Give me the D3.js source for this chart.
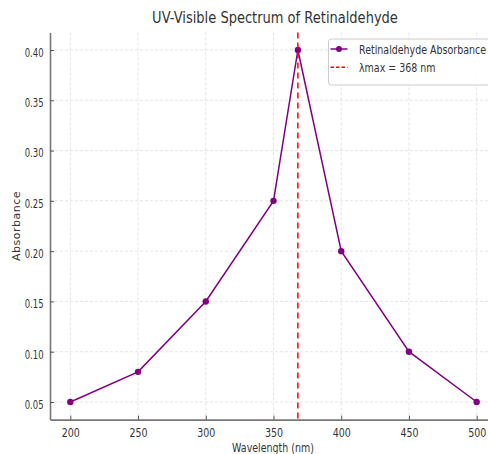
<!DOCTYPE html>
<html><head><meta charset="utf-8">
<script src="https://cdn.jsdelivr.net/npm/d3@7"></script>
<style>
body{margin:0;background:#fff;}
text{font-family:"DejaVu Sans",sans-serif;fill:#333;}
</style></head>
<body><svg id="c" width="488" height="454"></svg>
<script>
const wavelengths = [200, 250, 300, 350, 368, 400, 450, 500];
const absorbance = [0.05, 0.08, 0.15, 0.25, 0.40, 0.20, 0.10, 0.05];
const lambdaMax = 368;
const xTicks = [200, 250, 300, 350, 400, 450, 500];
const yTicks = [0.05, 0.10, 0.15, 0.20, 0.25, 0.30, 0.35, 0.40];
const seriesName = "Retinaldehyde Absorbance";
const lineName = "λmax = 368 nm";

function squeeze(sel, k) {
  sel.each(function () {
    const w = this.getComputedTextLength();
    d3.select(this).attr("textLength", w * k).attr("lengthAdjust", "spacingAndGlyphs");
  });
}

const svg = d3.select("#c");
const L = 50, R = 497, T = 32.4, B = 419.6;
const x = d3.scaleLinear().domain([185, 515]).range([L, R]);
const y = d3.scaleLinear().domain([0.0325, 0.4175]).range([B, T]);

// grid
const g = svg.append("g");
g.selectAll(".gx").data(xTicks).join("line")
  .attr("x1", d => x(d)).attr("x2", d => x(d)).attr("y1", T).attr("y2", B)
  .attr("stroke", "#ddd").attr("stroke-width", 0.8).attr("stroke-dasharray", "3,2");
g.selectAll(".gy").data(yTicks).join("line")
  .attr("y1", d => y(d)).attr("y2", d => y(d)).attr("x1", L).attr("x2", R)
  .attr("stroke", "#ddd").attr("stroke-width", 0.8).attr("stroke-dasharray", "3,2");

// axes (ticks point inward)
const xa = svg.append("g").attr("transform", `translate(0,${B})`)
  .call(d3.axisBottom(x).tickValues(xTicks).tickSizeInner(-4).tickSizeOuter(0).tickPadding(8).tickFormat(d3.format("d")));
const ya = svg.append("g").attr("transform", `translate(${L},0)`)
  .call(d3.axisLeft(y).tickValues(yTicks).tickSizeInner(-4).tickSizeOuter(0).tickPadding(6.5).tickFormat(d3.format(".2f")));
[xa, ya].forEach(a => {
  a.select(".domain").attr("stroke", "#777").attr("stroke-width", 1.6);
  a.selectAll(".tick line").attr("stroke", "#555").attr("stroke-width", 1);
  a.selectAll("text").attr("font-size", 12.8).attr("fill", "#333")
    .style("font-family", '"DejaVu Sans",sans-serif');
});
ya.selectAll("text").attr("dy", "0.5em");
squeeze(xa.selectAll("text"), 0.74);
squeeze(ya.selectAll("text"), 0.66);

// data line
const line = d3.line().x((d, i) => x(wavelengths[i])).y(d => y(d));
svg.append("path").datum(absorbance).attr("d", line)
  .attr("fill", "none").attr("stroke", "#800080").attr("stroke-width", 1.5);
svg.selectAll(".pt").data(absorbance).join("circle")
  .attr("cx", (d, i) => x(wavelengths[i])).attr("cy", d => y(d)).attr("r", 3.2)
  .attr("fill", "#800080");

// lambda max line
svg.append("line").attr("x1", x(lambdaMax)).attr("x2", x(lambdaMax)).attr("y1", T).attr("y2", B)
  .attr("stroke", "#ff0000").attr("stroke-width", 1.5).attr("stroke-dasharray", "6,4");

// title and labels
const title = svg.append("text").attr("x", 275).attr("y", 22.5).attr("text-anchor", "middle")
  .attr("font-size", 15.5).text("UV-Visible Spectrum of Retinaldehyde");
squeeze(title, 0.84);
const xl = svg.append("text").attr("x", 273).attr("y", 452).attr("text-anchor", "middle")
  .attr("font-size", 12.8).text("Wavelength (nm)");
squeeze(xl, 0.74);
svg.append("text").attr("transform", `translate(19.5,${(T + B) / 2}) rotate(-90)`)
  .attr("text-anchor", "middle").attr("font-size", 11)
  .style("letter-spacing", "0.5px")
  .text("Absorbance");

// legend
const lg = svg.append("g").attr("transform", "translate(328.5,39)");
lg.append("rect").attr("width", 175).attr("height", 46).attr("rx", 3)
  .attr("fill", "#fff").attr("fill-opacity", 0.85).attr("stroke", "#ccc");
lg.append("line").attr("x1", 2).attr("x2", 19).attr("y1", 10).attr("y2", 10)
  .attr("stroke", "#800080").attr("stroke-width", 1.5);
lg.append("circle").attr("cx", 10.5).attr("cy", 10).attr("r", 3).attr("fill", "#800080");
const t1 = lg.append("text").attr("x", 30.5).attr("y", 15.3).attr("font-size", 12.8).text(seriesName);
lg.append("line").attr("x1", 2).attr("x2", 19).attr("y1", 28.3).attr("y2", 28.3)
  .attr("stroke", "#ff0000").attr("stroke-width", 1.5).attr("stroke-dasharray", "3.5,2");
const t2 = lg.append("text").attr("x", 30.5).attr("y", 32.5).attr("font-size", 12.8).text(lineName);
squeeze(t1, 0.74);
squeeze(t2, 0.74);
</script></body></html>
